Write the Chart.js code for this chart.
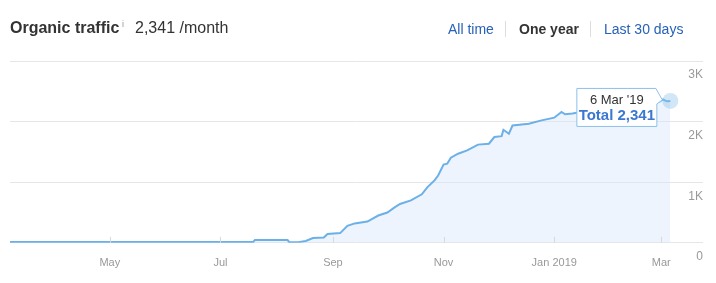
<!DOCTYPE html>
<html>
<head>
<meta charset="utf-8">
<script src="https://cdn.jsdelivr.net/npm/chart.js@4.4.0/dist/chart.umd.min.js"></script>
<style>
  body { margin: 0; background: #fff; font-family: "Liberation Sans", Arial, Helvetica, sans-serif; }
  #wrap { position: relative; width: 716px; height: 283px; }
  #chartBox { position: absolute; left: 0; top: 0; width: 716px; height: 283px; }
  .hd { position: absolute; top: 19px; font-size: 16px; color: #333; white-space: nowrap; line-height: 18px; }
  .title { left: 10px; font-weight: bold; }
  .info { left: 122px; top: 15px; font-size: 9px; color: #999; }
  .val { left: 135px; }
  .lnk { color: #2762b8; }
  .r { font-size: 14px; top: 20px; }
  .sep { position: absolute; top: 21px; width: 1px; height: 16px; background: #ddd; }
</style>
</head>
<body>
<div id="wrap">
  <div id="chartBox"><canvas id="grafico"></canvas></div>
  <div class="hd title">Organic traffic</div>
  <div class="hd info">i</div>
  <div class="hd val">2,341 /month</div>
  <div class="hd r lnk" style="left:448px">All time</div>
  <div class="sep" style="left:505px"></div>
  <div class="hd r" style="left:519px;font-weight:bold">One year</div>
  <div class="sep" style="left:590px"></div>
  <div class="hd r lnk" style="left:604px">Last 30 days</div>
</div>
<script>
// dados
const dates = [
  '2018-03-07', '2018-04-15', '2018-06-01', '2018-07-19', '2018-07-20', '2018-08-07',
  '2018-08-08', '2018-08-13', '2018-08-17', '2018-08-21', '2018-08-27', '2018-08-29',
  '2018-09-05', '2018-09-09', '2018-09-13', '2018-09-20', '2018-09-26', '2018-10-01',
  '2018-10-05', '2018-10-08', '2018-10-14', '2018-10-20', '2018-10-23', '2018-10-27',
  '2018-10-29', '2018-11-01', '2018-11-03', '2018-11-05', '2018-11-09', '2018-11-14',
  '2018-11-20', '2018-11-26', '2018-11-29', '2018-12-03', '2018-12-04', '2018-12-07',
  '2018-12-09', '2018-12-18', '2018-12-25', '2019-01-01', '2019-01-05', '2019-01-07',
  '2019-01-11', '2019-01-20', '2019-02-01', '2019-02-15', '2019-02-25', '2019-02-28',
  '2019-03-02', '2019-03-04', '2019-03-06'
];
const traffic = [
  15, 15, 15, 15, 45, 45,
  10, 10, 30, 78, 88, 145,
  160, 280, 320, 350, 450, 500,
  585, 640, 700, 800, 915, 1030,
  1110, 1290, 1305, 1405, 1470, 1525,
  1620, 1635, 1745, 1760, 1865, 1800,
  1935, 1965, 2020, 2065, 2160, 2120,
  2135, 2180, 2220, 2270, 2300, 2330,
  2365, 2335, 2341
];
const monthTicks = ['2018-05-01', '2018-07-01', '2018-09-01', '2018-11-01', '2019-01-01', '2019-03-01'];
const monthLabels = ['May', 'Jul', 'Sep', 'Nov', 'Jan 2019', 'Mar'];
const yTicks = [0, 1000, 2000, 3000];
const yLabels = ['0', '1K', '2K', '3K'];
const axisEnd = '2019-03-24';
const tooltipDate = "6 Mar '19";
const tooltipTotal = 'Total 2,341';

const dia0 = Date.parse(dates[0]);
function dia(d) { return (Date.parse(d) - dia0) / 86400000; }

const pontos = dates.map((d, i) => ({ x: dia(d), y: traffic[i] }));
const ultimo = pontos.length - 1;

// marcas curtas do eixo x (para cima)
const marcasX = {
  id: 'marcasX',
  afterDraw(chart) {
    const ctx = chart.ctx, sx = chart.scales.x, b = chart.chartArea.bottom;
    ctx.save();
    ctx.strokeStyle = '#d9d9d9';
    ctx.lineWidth = 1;
    monthTicks.forEach(d => {
      const px = Math.round(sx.getPixelForValue(dia(d))) + 0.5;
      ctx.beginPath(); ctx.moveTo(px, b - 6); ctx.lineTo(px, b); ctx.stroke();
    });
    ctx.restore();
  }
};

// caixa do tooltip fixa no último ponto
const caixaTooltip = {
  id: 'caixaTooltip',
  afterDraw(chart) {
    const p = chart.getDatasetMeta(0).data[ultimo];
    const ctx = chart.ctx;
    const r = p.x - 13, t = p.y - 13, w = 81, h = 39, l = r - w;
    ctx.save();
    ctx.fillStyle = '#fff';
    ctx.strokeStyle = '#8cc0ec';
    ctx.lineWidth = 1;
    ctx.beginPath();
    ctx.moveTo(l + 0.5, t + 0.5);
    ctx.lineTo(r - 1.5, t + 0.5);
    ctx.lineTo(r + 5, t + 12);
    ctx.lineTo(r - 0.5, t + 16);
    ctx.lineTo(r - 0.5, t + h - 0.5);
    ctx.lineTo(l + 0.5, t + h - 0.5);
    ctx.closePath();
    ctx.fill();
    ctx.stroke();
    ctx.textAlign = 'center';
    ctx.textBaseline = 'middle';
    ctx.fillStyle = '#333';
    ctx.font = '13px "Liberation Sans", Arial, sans-serif';
    ctx.fillText(tooltipDate, l + w / 2, t + 12);
    ctx.fillStyle = '#3b78d0';
    ctx.font = 'bold 15px "Liberation Sans", Arial, sans-serif';
    ctx.fillText(tooltipTotal, l + w / 2, t + 28);
    ctx.restore();
  }
};

const ctxLine = document.getElementById('grafico').getContext('2d');
new Chart(ctxLine, {
    type: 'line',
    data: {
        datasets: [{
            label: 'Organic traffic',
            data: pontos,
            fill: 'origin',
            backgroundColor: 'rgba(214, 231, 250, 0.45)',
            borderColor: '#6cb0e8',
            borderWidth: 2,
            tension: 0,
            pointRadius: pontos.map((p, i) => i === ultimo ? 8 : 0),
            pointBackgroundColor: 'rgba(140, 192, 236, 0.4)',
            pointBorderWidth: 0
        }]
    },
    options: {
        responsive: true,
        maintainAspectRatio: false,
        animation: false,
        layout: { padding: { left: 10, right: 13, top: 61, bottom: 7 } },
        plugins: { legend: { display: false }, tooltip: { enabled: false } },
        scales: {
            x: {
                type: 'linear',
                min: 0,
                max: dia(axisEnd),
                afterBuildTicks: axis => { axis.ticks = monthTicks.map(d => ({ value: dia(d) })); },
                ticks: {
                    autoSkip: false,
                    maxRotation: 0,
                    padding: 6,
                    color: '#999',
                    font: { size: 11, family: '"Liberation Sans", Arial, sans-serif' },
                    callback: (v) => monthLabels[monthTicks.findIndex(d => dia(d) === v)]
                },
                grid: { display: false },
                border: { display: false }
            },
            y: {
                position: 'right',
                min: 0,
                max: 3000,
                afterBuildTicks: axis => { axis.ticks = yTicks.map(v => ({ value: v })); },
                ticks: {
                    mirror: true,
                    padding: 0,
                    labelOffset: 14,
                    color: '#999',
                    font: { size: 12, family: '"Liberation Sans", Arial, sans-serif' },
                    callback: (v) => yLabels[yTicks.indexOf(v)]
                },
                grid: { color: '#e6e6e6', drawTicks: false },
                border: { display: false }
            }
        }
    },
    plugins: [marcasX, caixaTooltip]
});
</script>
</body>
</html>
